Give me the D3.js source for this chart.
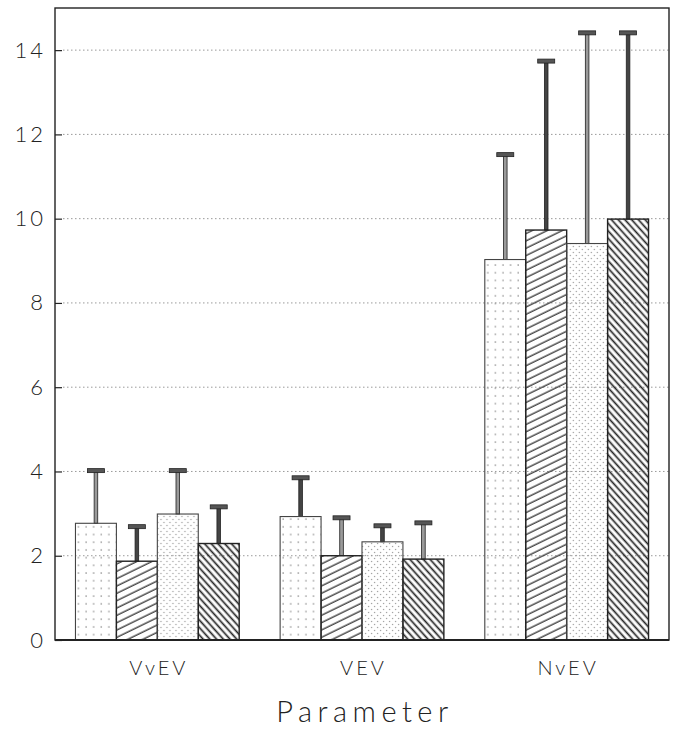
<!DOCTYPE html>
<html>
<head>
<meta charset="utf-8">
<script src="https://cdn.jsdelivr.net/npm/d3@7"></script>
<style>
  body { margin: 0; background: #fff; }
  text { font-family: Lato, "DejaVu Sans", sans-serif; font-weight: 300; fill: #222; }
</style>
</head>
<body>
<div id="chart"></div>
<script>
var width = 689;
var height = 735;
var margin = {top: 8, right: 20, bottom: 95, left: 55};
var w = width - margin.left - margin.right;
var h = height - margin.top - margin.bottom;

// data
var categories = ["VvEV", "VEV", "NvEV"];
var seriesNames = ["s1", "s2", "s3", "s4"];
var means = [
  [2.77, 1.87, 2.99, 2.29],
  [2.93, 2.00, 2.33, 1.92],
  [9.03, 9.73, 9.41, 9.99]
];
var errTops = [
  [4.02, 2.69, 4.02, 3.16],
  [3.85, 2.90, 2.71, 2.78],
  [11.52, 13.74, 14.41, 14.41]
];
var yTicks = [0, 2, 4, 6, 8, 10, 12, 14];
var xTitle = "Parameter";

var svg = d3.select("#chart").append("svg")
  .attr("width", width)
  .attr("height", height);

// patterns
var defs = svg.append("defs");

var p1 = defs.append("pattern").attr("id", "pat0")
  .attr("patternUnits", "userSpaceOnUse")
  .attr("width", 7.6).attr("height", 7.7);
p1.append("circle").attr("cx", 3).attr("cy", 3).attr("r", 0.8).attr("fill", "#8a8a8a");

var p2 = defs.append("pattern").attr("id", "pat1")
  .attr("patternUnits", "userSpaceOnUse")
  .attr("width", 20).attr("height", 6.6)
  .attr("patternTransform", "rotate(-26)");
p2.append("line").attr("x1", 0).attr("x2", 20).attr("y1", 3).attr("y2", 3)
  .attr("stroke", "#333").attr("stroke-width", 1.3);

var p3 = defs.append("pattern").attr("id", "pat2")
  .attr("patternUnits", "userSpaceOnUse")
  .attr("width", 6).attr("height", 6);
p3.append("circle").attr("cx", 1.5).attr("cy", 1.5).attr("r", 0.7).attr("fill", "#999");
p3.append("circle").attr("cx", 4.5).attr("cy", 4.5).attr("r", 0.7).attr("fill", "#999");

var p4 = defs.append("pattern").attr("id", "pat3")
  .attr("patternUnits", "userSpaceOnUse")
  .attr("width", 20).attr("height", 5)
  .attr("patternTransform", "rotate(48)");
p4.append("line").attr("x1", 0).attr("x2", 20).attr("y1", 2.5).attr("y2", 2.5)
  .attr("stroke", "#222").attr("stroke-width", 1.7);

var g = svg.append("g")
  .attr("transform", "translate(" + margin.left + "," + margin.top + ")");

var x0 = d3.scaleBand().domain(categories).range([0, w])
  .paddingInner(0.2).paddingOuter(0.1);
var x1 = d3.scaleBand().domain(seriesNames).range([0, x0.bandwidth()]);
var y = d3.scaleLinear().domain([0, 15]).range([h, 0]);

// dotted grid
g.selectAll(".grid")
  .data(yTicks.filter(function(d) { return d > 0; }))
  .enter().append("line")
  .attr("class", "grid")
  .attr("x1", 8).attr("x2", w)
  .attr("y1", function(d) { return y(d); })
  .attr("y2", function(d) { return y(d); })
  .attr("stroke", "#9a9a9a")
  .attr("stroke-width", 1)
  .attr("stroke-dasharray", "1.5,2.5");

// y axis with inward ticks
var yAxis = d3.axisLeft(y).tickValues(yTicks).tickSize(-7).tickPadding(9);
var ya = g.append("g").call(yAxis);
ya.select(".domain").remove();
ya.selectAll(".tick line").attr("stroke", "#222").attr("stroke-width", 1.2);
ya.selectAll(".tick text")
  .style("font-family", "Lato, 'DejaVu Sans', sans-serif")
  .style("font-weight", 300)
  .style("font-size", "22px")
  .style("letter-spacing", "3px")
  .attr("fill", "#222");

// bars
var groups = g.selectAll(".grp")
  .data(categories)
  .enter().append("g")
  .attr("class", "grp")
  .attr("transform", function(d) { return "translate(" + x0(d) + ",0)"; });

groups.each(function(cat, ci) {
  var gg = d3.select(this);
  var rows = seriesNames.map(function(s, si) {
    return {s: s, si: si, v: means[ci][si], e: errTops[ci][si]};
  });

  // error stems
  gg.selectAll(".stem").data(rows).enter().append("rect")
    .attr("x", function(d) { return x1(d.s) + x1.bandwidth() / 2 - 1.8; })
    .attr("width", 3.6)
    .attr("y", function(d) { return y(d.e); })
    .attr("height", function(d) { return y(d.v) - y(d.e); })
    .attr("fill", function(d) { return (d.si + ci) % 2 ? "#444" : "#9a9a9a"; })
    .attr("stroke", "#222")
    .attr("stroke-width", 0.8);

  // caps
  gg.selectAll(".cap").data(rows).enter().append("rect")
    .attr("x", function(d) { return x1(d.s) + x1.bandwidth() / 2 - 8.5; })
    .attr("width", 17)
    .attr("y", function(d) { return y(d.e) - 2; })
    .attr("height", 4)
    .attr("fill", "#555")
    .attr("stroke", "#222")
    .attr("stroke-width", 0.8);

  gg.selectAll(".bar").data(rows).enter().append("rect")
    .attr("x", function(d) { return x1(d.s); })
    .attr("width", x1.bandwidth())
    .attr("y", function(d) { return y(d.v); })
    .attr("height", function(d) { return y(0) - y(d.v); })
    .attr("fill", function(d) { return "url(#pat" + d.si + ")"; })
    .attr("stroke", function(d) { return d.si % 2 ? "#222" : "#444"; })
    .attr("stroke-width", function(d) { return d.si % 2 ? 1.4 : 1.1; });
});

// frame
g.append("rect")
  .attr("x", 0).attr("y", 0)
  .attr("width", w).attr("height", h)
  .attr("fill", "none")
  .attr("stroke", "#222")
  .attr("stroke-width", 1.4);
g.append("line")
  .attr("x1", 0).attr("x2", w).attr("y1", h).attr("y2", h)
  .attr("stroke", "#222").attr("stroke-width", 2);

// category labels
g.selectAll(".cat")
  .data(categories)
  .enter().append("text")
  .attr("x", function(d) { return x0(d) + x0.bandwidth() / 2 + 1.5; })
  .attr("y", h + 35)
  .attr("text-anchor", "middle")
  .style("font-size", "20px")
  .style("letter-spacing", "3px")
  .text(function(d) { return d; });

// axis title
g.append("text")
  .attr("x", w / 2 + 3)
  .attr("y", h + 82)
  .attr("text-anchor", "middle")
  .style("font-size", "29px")
  .style("letter-spacing", "5.5px")
  .text(xTitle);
</script>
</body>
</html>
